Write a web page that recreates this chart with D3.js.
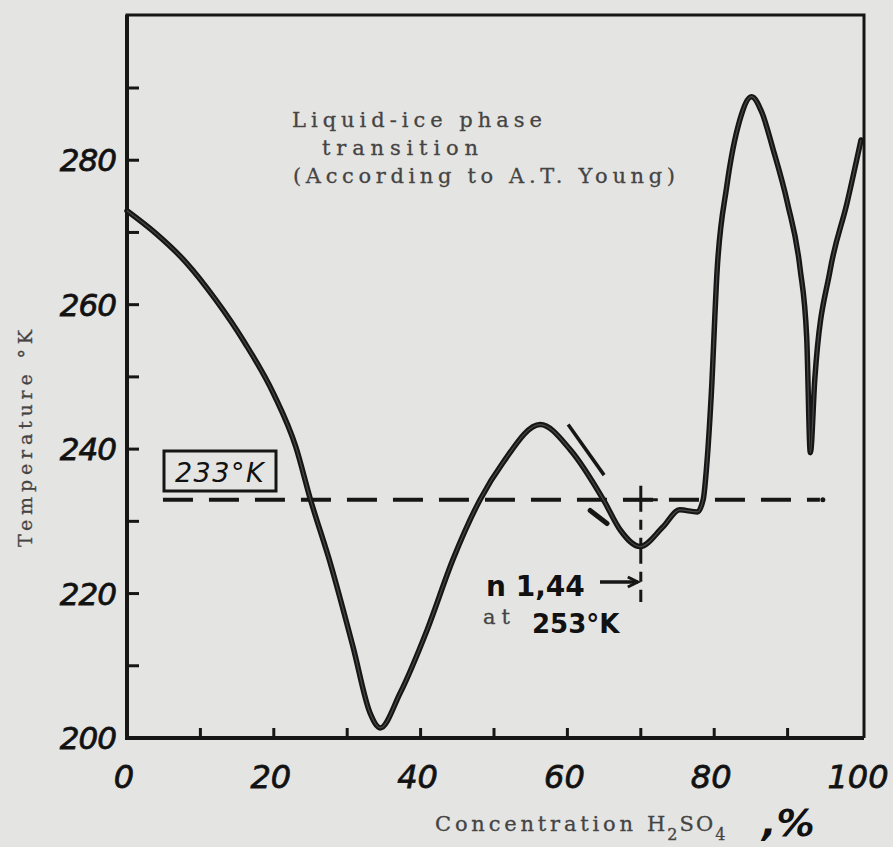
<!DOCTYPE html>
<html>
<head>
<meta charset="utf-8">
<script src="https://cdn.jsdelivr.net/npm/d3@7"></script>
<style>
  body { margin: 0; background: #e4e4e2; }
  svg { display: block; }
  .hand { font-family: "DejaVu Sans", sans-serif; fill: #111; }
  .type { font-family: "DejaVu Serif", serif; fill: #444; stroke: #444; stroke-width: 0.3; }
</style>
</head>
<body>
<svg id="chart" width="893" height="847" viewBox="0 0 893 847"></svg>
<script>
// concentration H2SO4 (%) and freezing temperature (K)
const conc = [0, 4, 8, 12, 16, 20, 23, 25, 27.7, 30.8, 33.1, 34.5,
              37.2, 40.9, 44.4, 48.1, 51.2, 56.3, 60.4, 64.9, 67.2, 69.9, 73.0,
              75.3, 77.7, 78.5, 79.0, 79.6, 80.4, 81.7, 83.5, 85.1, 86.5, 88.0, 90.0,
              91.7, 92.6, 93.1, 93.7, 95.8, 98.1, 100]
const temp = [273, 269.8, 265.9, 260.8, 254.8, 247.6, 240.3, 233.0, 224.2, 212.6, 203.5, 201.4,
              206.2, 215.0, 224.7, 233.0, 238.1, 243.4, 239.9, 233.0, 228.8, 226.5, 229.2,
              231.6, 231.3, 233.0, 238.0, 247.5, 264.8, 276.3, 285.6, 288.8, 286.6, 281.6, 274.0,
              265.0, 255.5, 239.5, 249.6, 264.8, 274.1, 282.8]

const xTicks = [10, 20, 30, 40, 50, 60, 70, 80, 90]
const xLabels = [0, 20, 40, 60, 80, 100]
const yTicks = [210, 220, 230, 240, 250, 260, 270, 280, 290]
const yLabels = [200, 220, 240, 260, 280]
const refTemp = 233
const markConc = 70
const titleLines = ["Liquid-ice phase", "transition", "(According to A.T. Young)"]

const svg = d3.select("#chart")

const x = d3.scaleLinear().domain([0, 100]).range([127, 861])
const y = d3.scaleLinear().domain([200, 290]).range([738, 88])

const ink = "#161616"

// frame: top and right
svg.append("path")
    .attr("d", `M${x(0)},${y(200)} V15 H${x(100) + 3} V${y(200)}`)
    .attr("fill", "none").attr("stroke", ink).attr("stroke-width", 3)

// axes
svg.append("line")
    .attr("x1", x(0)).attr("x2", x(0)).attr("y1", 15).attr("y2", y(200))
    .attr("stroke", ink).attr("stroke-width", 4)
svg.append("line")
    .attr("x1", x(0) - 2).attr("x2", x(100) + 3).attr("y1", y(200)).attr("y2", y(200))
    .attr("stroke", ink).attr("stroke-width", 4)

// inward ticks
svg.append("g").selectAll("line").data(xTicks).enter().append("line")
    .attr("x1", d => x(d)).attr("x2", d => x(d))
    .attr("y1", y(200)).attr("y2", y(200) - 10)
    .attr("stroke", ink).attr("stroke-width", 3)
svg.append("g").selectAll("line").data(yTicks).enter().append("line")
    .attr("x1", x(0)).attr("x2", x(0) + 12)
    .attr("y1", d => y(d)).attr("y2", d => y(d))
    .attr("stroke", ink).attr("stroke-width", 3)

// tick labels (handwritten look)
svg.append("g").selectAll("text").data(xLabels).enter().append("text")
    .attr("class", "hand")
    .attr("x", d => x(d) - 3).attr("y", 788)
    .attr("text-anchor", "middle")
    .attr("font-size", 32)
    .style("font-style", "italic")
    .attr("stroke", ink).attr("stroke-width", 0.8)
    .text(d => d)
svg.append("g").selectAll("text").data(yLabels).enter().append("text")
    .attr("class", "hand")
    .attr("x", 116).attr("y", d => y(d) + 11)
    .attr("text-anchor", "end")
    .attr("font-size", 31)
    .attr("letter-spacing", -1)
    .style("font-style", "italic")
    .attr("stroke", ink).attr("stroke-width", 0.8)
    .text(d => d)

// axis titles (typewriter text, widths)
svg.append("text")
    .attr("class", "type")
    .attr("transform", "translate(32,547) rotate(-90)")
    .attr("font-size", 19)
    .attr("textLength", 217).attr("lengthAdjust", "spacing")
    .text("Temperature °K")

svg.append("text").attr("class", "type")
    .attr("x", 435).attr("y", 831).attr("font-size", 21)
    .attr("textLength", 198).attr("lengthAdjust", "spacing")
    .text("Concentration")
const xt = svg.append("text").attr("class", "type")
    .attr("x", 647).attr("y", 831).attr("font-size", 21).attr("letter-spacing", 2)
xt.append("tspan").text("H")
xt.append("tspan").attr("dy", 9).attr("font-size", 16).text("2")
xt.append("tspan").attr("dy", -9).text("SO")
xt.append("tspan").attr("dy", 9).attr("font-size", 16).text("4")
svg.append("text").attr("class", "hand")
    .attr("x", 762).attr("y", 836).attr("font-size", 38).attr("font-weight", "bold")
    .style("font-style", "italic")
    .text(",%")

// title
const titleX = [292, 322, 293]
const titleW = [250, 156, 382]
svg.append("g").selectAll("text").data(titleLines).enter().append("text")
    .attr("class", "type")
    .attr("x", (d, i) => titleX[i])
    .attr("y", (d, i) => 127 + i * 28)
    .attr("font-size", 21)
    .attr("textLength", (d, i) => titleW[i]).attr("lengthAdjust", "spacing")
    .text(d => d)

// 233 K reference line
svg.append("line")
    .attr("x1", x(4.9)).attr("x2", x(94.4))
    .attr("y1", y(refTemp)).attr("y2", y(refTemp))
    .attr("stroke", ink).attr("stroke-width", 4)
    .attr("stroke-dasharray", "30,16")
svg.append("circle").attr("cx", x(94.8)).attr("cy", y(refTemp)).attr("r", 2.5).attr("fill", ink)

svg.append("rect")
    .attr("x", 164).attr("y", 451).attr("width", 112).attr("height", 40)
    .attr("fill", "none").attr("stroke", ink).attr("stroke-width", 3)
svg.append("text").attr("class", "hand")
    .attr("x", 220).attr("y", 482).attr("text-anchor", "middle")
    .attr("font-size", 27)
    .attr("letter-spacing", 1.5)
    .style("font-style", "italic")
    .attr("fill", "#2a2a2a")
    .text("233°K")

// vertical mark at 70 %
svg.append("line")
    .attr("x1", x(markConc)).attr("x2", x(markConc))
    .attr("y1", y(refTemp) - 14).attr("y2", 602)
    .attr("stroke", ink).attr("stroke-width", 3)
    .attr("stroke-dasharray", "26,8,10,8")
svg.append("line")
    .attr("x1", x(markConc) - 17).attr("x2", x(markConc) + 17)
    .attr("y1", y(refTemp)).attr("y2", y(refTemp))
    .attr("stroke", ink).attr("stroke-width", 3)

// n 1,44 annotation
svg.append("text").attr("class", "hand")
    .attr("x", 486).attr("y", 596).attr("font-size", 28)
    .attr("font-weight", "bold")
    .text("n 1,44")
svg.append("line")
    .attr("x1", 600).attr("x2", x(markConc) - 3).attr("y1", 582).attr("y2", 582)
    .attr("stroke", ink).attr("stroke-width", 3.5)
svg.append("path")
    .attr("d", `M${x(markConc) - 13},577 L${x(markConc) - 3},582 L${x(markConc) - 13},587`)
    .attr("fill", "none").attr("stroke", ink).attr("stroke-width", 3)
svg.append("text").attr("class", "type")
    .attr("x", 483).attr("y", 624).attr("font-size", 21)
    .attr("textLength", 27).attr("lengthAdjust", "spacing").text("at")
svg.append("text").attr("class", "hand")
    .attr("x", 532).attr("y", 633).attr("font-size", 26).attr("font-weight", "bold")
    .text("253°K")

// small arrow along the falling branch
svg.append("line")
    .attr("x1", x(60.1)).attr("y1", y(243.4))
    .attr("x2", x(65.0)).attr("y2", y(236.4))
    .attr("stroke", ink).attr("stroke-width", 3.5)
svg.append("line")
    .attr("x1", x(63.1)).attr("y1", y(231.5))
    .attr("x2", x(65.4)).attr("y2", y(229.7))
    .attr("stroke", ink).attr("stroke-width", 5)
    .attr("stroke-linecap", "round")

// freezing curve
const pts = conc.map((c, i) => [c, temp[i]])
const line = d3.line()
    .x(d => x(d[0]))
    .y(d => y(d[1]))
    .curve(d3.curveMonotoneX)

svg.append("path")
    .datum(pts)
    .attr("d", line)
    .attr("fill", "none")
    .attr("stroke", ink)
    .attr("stroke-width", 5.5)
    .attr("stroke-linejoin", "round")
    .attr("stroke-linecap", "round")
svg.append("path")
    .datum(pts)
    .attr("d", line)
    .attr("fill", "none")
    .attr("stroke", "#6a6a6a")
    .attr("stroke-width", 1.2)
    .attr("stroke-opacity", 0.6)
</script>
</body>
</html>
